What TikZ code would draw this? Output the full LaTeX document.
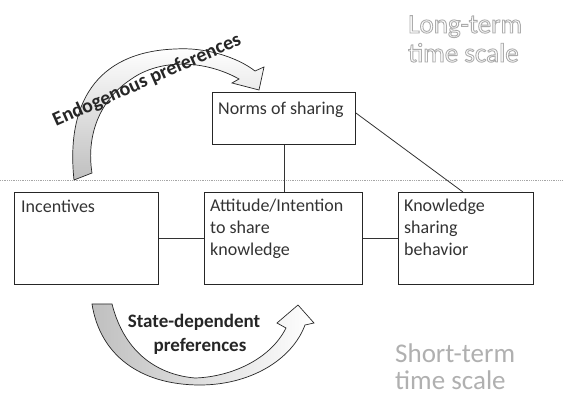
\documentclass[tikz,border=0pt]{standalone}
\usepackage{fontspec}
\setmainfont{Carlito}
\usetikzlibrary{calc}
\newcommand{\hollowtext}[1]{\special{pdf:literal direct 1 Tr 0.9 w}#1\special{pdf:literal direct 0 Tr}}
\begin{document}
\begin{tikzpicture}[x=1pt,y=1pt,
  box/.style={draw=black!85, line width=0.9pt, rectangle, anchor=north west, inner sep=0pt},
  lbl/.style={anchor=base west, align=left, inner sep=0pt, text=black!80, font=\fontsize{18}{22}\selectfont},
  conn/.style={draw=black!80, line width=0.8pt},
  bigarrow/.style={draw=black!85, line width=0.7pt, line join=miter},
  arrtext/.style={anchor=base, inner sep=0pt, text=black!85, font=\bfseries\fontsize{19}{22}\selectfont},
  timelbl/.style={anchor=base west, align=left, inner sep=0pt, font=\fontsize{27}{29}\selectfont}
]
\useasboundingbox (0,0) rectangle (563,-398);
\fill[white] (0,0) rectangle (563,-398);

% separator
\coordinate (sepL) at (0,-180);
\coordinate (sepR) at (563,-180);
\draw[gray!70, densely dotted, line width=0.8pt] (sepL) -- (sepR);

% boxes
\node[box, minimum width=143pt, minimum height=52pt] (norms) at (212,-92) {};
\node[box, minimum width=144pt, minimum height=92pt] (inc) at (14,-192) {};
\node[box, minimum width=158pt, minimum height=92pt] (att) at (204,-192) {};
\node[box, minimum width=135pt, minimum height=92pt] (know) at (398,-192) {};

% box texts (multi-line nodes: base = last line)
\node[lbl] (normsT) at (218,-115) {Norms of sharing};
\node[lbl] (incT) at (21,-213) {Incentives};
\node[lbl] (attT) at (210,-256) {Attitude/Intention\\to share\\knowledge};
\node[lbl] (knowT) at (404,-256) {Knowledge\\sharing\\behavior};

% connectors
\draw[conn] (norms.south) -- (norms.south |- att.north);
\draw[conn] ($(norms.north east)+(0,-21)$) -- ($(know.north)+(-3,0)$);
\draw[conn] (inc.east) -- (att.west);
\draw[conn] (att.east) -- (know.west);

% endogenous preferences arrow
\draw[bigarrow, top color=white, middle color=white, bottom color=gray!50]
  (74,-180) .. controls (66,-105) and (95,-52) .. (175,-49)
  .. controls (205,-47) and (237,-57) .. (255,-71)
  -- (264,-67) -- (259,-90) -- (232,-83) -- (239,-79)
  .. controls (205,-60) and (160,-58) .. (130,-80)
  .. controls (100,-100) and (86,-135) .. (92,-173) -- cycle;
\node[anchor=base west, inner sep=0pt, rotate=24, text=black!85,
  font=\bfseries\fontsize{20}{22}\selectfont] (endo) at (56,-127) {Endogenous preferences};

% state-dependent preferences arrow
\draw[bigarrow, left color=gray!50, middle color=white, right color=white]
  (92,-304) .. controls (100,-355) and (140,-385) .. (200,-385)
  .. controls (250,-385) and (292,-360) .. (305,-325)
  -- (314,-323) -- (298,-305) -- (277,-323) -- (286,-328)
  .. controls (270,-360) and (230,-377) .. (195,-378)
  .. controls (160,-375) and (125,-355) .. (112,-304) -- cycle;
\node[arrtext] (sd1) at (194,-328) {State-dependent};
\node[arrtext] (sd2) at (200,-352) {preferences};

% time scale labels
\node[timelbl, text=gray!65] (lt1) at (408,-33) {\hollowtext{Long-term}};
\node[timelbl, text=gray!65] (lt2) at (408,-62) {\hollowtext{time scale}};
\node[timelbl, text=gray!62] (st1) at (395,-363) {Short-term};
\node[timelbl, text=gray!62] (st2) at (395,-390) {time scale};
\end{tikzpicture}
\end{document}
